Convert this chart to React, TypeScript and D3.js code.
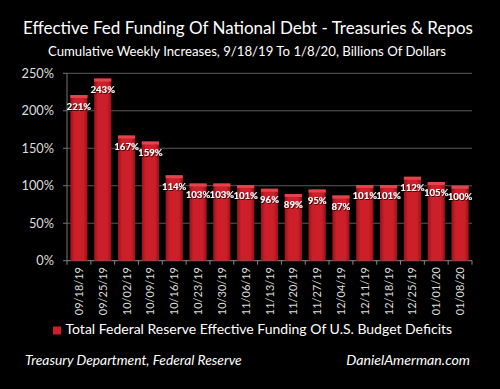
import React from "react";
import * as d3 from "d3";

const categories = ["09/18/19","09/25/19","10/02/19","10/09/19","10/16/19","10/23/19","10/30/19","11/06/19","11/13/19","11/20/19","11/27/19","12/04/19","12/11/19","12/18/19","12/25/19","01/01/20","01/08/20"];
const values = [221,243,167,159,114,103,103,101,96,89,95,87,101,101,112,105,100];
const yTicks = [0,50,100,150,200,250];
const title = "Effective Fed Funding Of National Debt - Treasuries & Repos";
const subtitle = "Cumulative Weekly Increases, 9/18/19 To 1/8/20, Billions Of Dollars";
const legendLabel = "Total Federal Reserve Effective Funding Of U.S. Budget Deficits";
const sourceLeft = "Treasury Department, Federal Reserve";
const sourceRight = "DanielAmerman.com";

const W = 500, H = 389;
const left = 67, right = 472, top = 73.3, bottom = 260.7;
const FONT = "Lato, 'Noto Sans', sans-serif";

export default function App() {
  const x = d3.scaleBand<string>().domain(categories).range([left, right]).paddingInner(0.28).paddingOuter(0.14);
  const y = d3.scaleLinear().domain([0, 250]).range([bottom, top]);
  const step = x.step();
  return (
    <svg width={W} height={H} style={{ display: "block", position: "absolute", left: 0, top: 0, background: "#000" }}>
      <defs>
        <linearGradient id="barg" x1="0" x2="1" y1="0" y2="0">
          <stop offset="0" stopColor="#9c121a" />
          <stop offset="0.25" stopColor="#cc1f29" />
          <stop offset="0.75" stopColor="#cc1f29" />
          <stop offset="1" stopColor="#9c121a" />
        </linearGradient>
        <filter id="sh" x="-20%" y="-20%" width="140%" height="140%">
          <feDropShadow dx="0.8" dy="0.8" stdDeviation="0.6" floodColor="#000" floodOpacity="0.9" />
        </filter>
      </defs>
      <rect x={0} y={0} width={W} height={H} fill="#000" />
      <text x={248} y={34} fill="#fff" fontFamily={FONT} fontSize={17} textAnchor="middle">{title}</text>
      <text x={247} y={56} fill="#fff" fontFamily={FONT} fontSize={13.2} textAnchor="middle">{subtitle}</text>
      {yTicks.map(t => (
        <g key={t}>
          {t > 0 && <line x1={left} x2={right} y1={y(t)} y2={y(t)} stroke="#5a5a5a" strokeWidth={1} />}
          <line x1={left - 4} x2={left} y1={y(t)} y2={y(t)} stroke="#777" />
          <text x={54} y={y(t)} dy="0.35em" fill="#ddd" fontFamily={FONT} fontSize={12.8} textAnchor="end">{t}%</text>
        </g>
      ))}
      <line x1={left} x2={left} y1={top} y2={bottom} stroke="#777" />
      <line x1={left} x2={right} y1={bottom} y2={bottom} stroke="#888" />
      {categories.map((c, i) => (
        <line key={"t" + i} x1={left + step * i} x2={left + step * i} y1={bottom} y2={bottom + 4} stroke="#888" />
      ))}
      <line x1={right} x2={right} y1={bottom} y2={bottom + 4} stroke="#888" />
      {values.map((v, i) => {
        const bx = x(categories[i])!;
        const bw = x.bandwidth();
        return (
          <g key={i}>
            <rect x={bx} y={y(v)} width={bw} height={bottom - y(v)} fill="url(#barg)" />
            <rect x={bx} y={y(v)} width={bw} height={3} fill="#e2444c" />
          </g>
        );
      })}
      {values.map((v, i) => (
        <text key={"l" + i} x={x(categories[i])! + x.bandwidth() / 2} y={y(v) + 14.5} fill="#fff" fontFamily={FONT}
          fontWeight="bold" fontSize={9.6} textAnchor="middle" filter="url(#sh)">{v}%</text>
      ))}
      {categories.map((c, i) => {
        const cx = x(c)! + x.bandwidth() / 2;
        return (
          <text key={"c" + i} transform={`translate(${cx + 4},${267}) rotate(-90)`} fill="#ddd" fontFamily={FONT}
            fontSize={11} textAnchor="end">{c}</text>
        );
      })}
      <rect x={53} y={326.5} width={8} height={8} fill="#cc1f29" />
      <text x={65.5} y={334} fill="#fff" fontFamily={FONT} fontSize={14}>{legendLabel}</text>
      <text x={25} y={365} fill="#fff" fontFamily={FONT} fontSize={13.8} fontStyle="italic">{sourceLeft}</text>
      <text x={470} y={365} fill="#fff" fontFamily={FONT} fontSize={14.2} fontStyle="italic" textAnchor="end">{sourceRight}</text>
    </svg>
  );
}
